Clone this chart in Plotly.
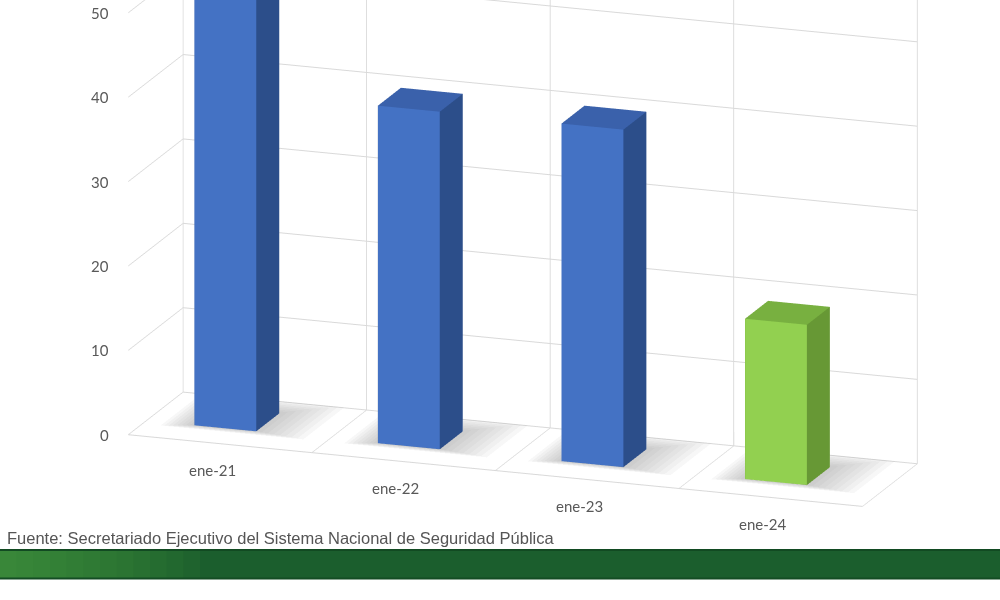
import plotly.graph_objects as go

# ---- data ----
categories = ["ene-21", "ene-22", "ene-23", "ene-24"]
values = [57, 40, 40, 19]
z_ticks = [0, 10, 20, 30, 40, 50]
source_text = "Fuente: Secretariado Ejecutivo del Sistema Nacional de Seguridad Pública"

# ---- style ----
front_colors = ["#4472C4", "#4472C4", "#4472C4", "#92D050"]
side_colors = ["#2C4E8A", "#2C4E8A", "#2C4E8A", "#679835"]
top_colors = ["#3A61AB", "#3A61AB", "#3A61AB", "#78B040"]
label_color = "#595959"
grid_color = "#D9D9D9"

BAR_W = 0.337
BAR_SHIFT = -0.07
Y0, Y1 = 0.33, 0.75

fig = go.Figure()

NOLIGHT = dict(ambient=1, diffuse=0, specular=0, roughness=1, fresnel=0)

for i, (cat, v) in enumerate(zip(categories, values)):
    xc = i + 0.5 + BAR_SHIFT
    x0, x1 = xc - BAR_W / 2, xc + BAR_W / 2
    # soft floor shadow (stacked translucent layers)
    for k in range(8):
        gl, gr = 0.02 * (k + 1), 0.035 * (k + 1)
        gf, gb = 0.01 * (k + 1), 0.035 * (k + 1)
        fig.add_trace(go.Mesh3d(
            x=[x0 - gl, x1 + gr, x1 + gr, x0 - gl],
            y=[Y0 - gf, Y0 - gf, Y1 + gb, Y1 + gb],
            z=[0.05, 0.05, 0.05, 0.05],
            i=[0, 0], j=[1, 2], k=[2, 3],
            color="#808080", opacity=0.06, flatshading=True,
            lighting=NOLIGHT, hoverinfo="skip", showscale=False,
        ))
    xs = [x0, x1, x1, x0, x0, x1, x1, x0]
    ys = [Y0, Y0, Y1, Y1, Y0, Y0, Y1, Y1]
    zs = [0, 0, 0, 0, v, v, v, v]
    tri = [
        (0, 1, 5), (0, 5, 4),   # front
        (1, 2, 6), (1, 6, 5),   # right
        (4, 5, 6), (4, 6, 7),   # top
        (0, 3, 7), (0, 7, 4),   # left
        (3, 2, 6), (3, 6, 7),   # back
        (0, 1, 2), (0, 2, 3),   # bottom
    ]
    fc = [front_colors[i]] * 2 + [side_colors[i]] * 2 + [top_colors[i]] * 2 + [side_colors[i]] * 6
    fig.add_trace(go.Mesh3d(
        x=xs, y=ys, z=zs,
        i=[t[0] for t in tri], j=[t[1] for t in tri], k=[t[2] for t in tri],
        facecolor=fc, flatshading=True,
        lighting=NOLIGHT, hoverinfo="skip", showscale=False,
    ))

# floor front edge
fig.add_trace(go.Scatter3d(
    x=[0, len(categories)], y=[0, 0], z=[0, 0], mode="lines",
    line=dict(color=grid_color, width=2), hoverinfo="skip", showlegend=False,
))

label_font = dict(family="Lato", size=15, color=label_color)
scene_annotations = []
for t in z_ticks:
    scene_annotations.append(dict(
        x=0, y=0, z=t, text=str(t), showarrow=False,
        xanchor="right", yanchor="middle", xshift=-17, font=label_font,
    ))
for i, cat in enumerate(categories):
    scene_annotations.append(dict(
        x=i + 0.5, y=0, z=0, text=cat, showarrow=False,
        xanchor="center", yanchor="middle", xshift=-8, yshift=-26, font=label_font,
    ))

axis_common = dict(
    showbackground=True, backgroundcolor="white",
    gridcolor=grid_color, gridwidth=2,
    showticklabels=False, title=dict(text=""),
    showspikes=False, zeroline=False, showline=False,
)

# green footer band with lighter left end
band_shapes = [
    dict(type="rect", xref="paper", yref="paper", x0=0, x1=1, y0=0.035, y1=0.085,
         fillcolor="#1B5E2D", line=dict(width=0), layer="above"),
]
steps = 12
for s in range(steps):
    band_shapes.append(dict(
        type="rect", xref="paper", yref="paper",
        x0=0, x1=0.2 * (steps - s) / steps, y0=0.036, y1=0.082,
        fillcolor="#5BA347", opacity=0.07, line=dict(width=0), layer="above",
    ))
band_shapes.append(dict(type="line", xref="paper", yref="paper", x0=0, x1=1, y0=0.0835, y1=0.0835,
                        line=dict(color="#124A22", width=2), layer="above"))
band_shapes.append(dict(type="line", xref="paper", yref="paper", x0=0, x1=1, y0=0.036, y1=0.036,
                        line=dict(color="#144D24", width=2), layer="above"))

fig.update_layout(
    width=1000, height=600,
    margin=dict(l=0, r=0, t=0, b=0),
    paper_bgcolor="white",
    showlegend=False,
    scene=dict(
        domain=dict(x=[0, 1], y=[0.088, 1]),
        xaxis=dict(range=[0, len(categories)], tickvals=list(range(len(categories) + 1)), **axis_common),
        yaxis=dict(range=[0, 1], showgrid=False, **axis_common),
        zaxis=dict(range=[0, 60], tickvals=list(range(0, 70, 10)), **axis_common),
        aspectmode="manual",
        aspectratio=dict(x=2.848, y=0.6, z=1.926),
        camera=dict(
            projection=dict(type="orthographic"),
            eye=dict(x=0.5533, y=-1.8122, z=0.2482),
            center=dict(x=-0.0885, y=0, z=-0.3030),
            up=dict(x=0, y=0, z=1),
        ),
        annotations=scene_annotations,
    ),
    shapes=band_shapes,
    annotations=[
        dict(text=source_text, xref="paper", yref="paper", x=0.005, y=0.103,
             xanchor="left", yanchor="middle", showarrow=False,
             font=dict(family="Liberation Sans", size=16.5, color="#555555")),
    ],
)

fig.write_html("out.html", config={"displayModeBar": False},
               post_script="document.body.style.margin='0';")
